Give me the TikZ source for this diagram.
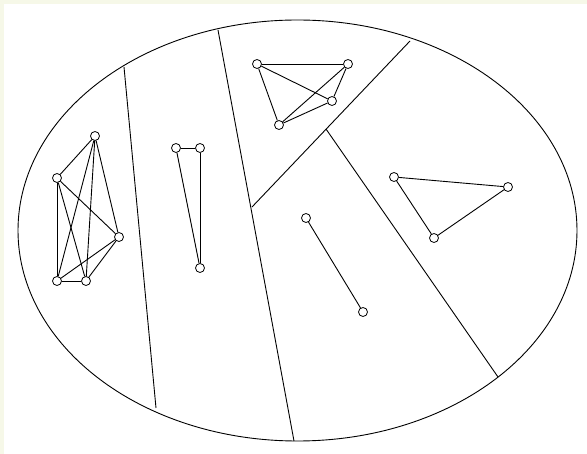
\documentclass[tikz,border=0pt]{standalone}
\definecolor{bgcream}{RGB}{246,248,232}
\begin{document}
\begin{tikzpicture}[x=1pt,y=-1pt,
  vtx/.style={circle,draw=black,fill=white,inner sep=0pt,minimum size=9pt,line width=0.8pt},
  edge/.style={draw=black,line width=0.9pt},
  part/.style={draw=black,line width=0.9pt}]
\fill[bgcream] (0,0) rectangle (587,454);
\fill[white] (4,4) rectangle (587,454);
\useasboundingbox (0,0) rectangle (587,454);
% outer ellipse
\draw[part] (297.5,230.5) ellipse [x radius=279.5, y radius=210.5];
% partition lines
\coordinate (p1a) at (124,67);
\coordinate (p1b) at (156,408);
\coordinate (p2a) at (218,30);
\coordinate (p2b) at (294,441);
\coordinate (p3a) at (410,41);
\coordinate (p3b) at (252,207);
\coordinate (p4a) at (326,129);
\coordinate (p4b) at (498,377);
\draw[part] (p1a) -- (p1b);
\draw[part] (p2a) -- (p2b);
\draw[part] (p3a) -- (p3b);
\draw[part] (p4a) -- (p4b);
% cluster 1 (K5)
\node[vtx] (a) at (95,136) {};
\node[vtx] (b) at (57,178) {};
\node[vtx] (c) at (119,237) {};
\node[vtx] (d) at (57,281) {};
\node[vtx] (e) at (86,281) {};
% cluster 2
\node[vtx] (f) at (176,148) {};
\node[vtx] (g) at (200,148) {};
\node[vtx] (h) at (200,268) {};
% cluster 3 (K4)
\node[vtx] (i) at (257,64) {};
\node[vtx] (j) at (348,64) {};
\node[vtx] (k) at (332,101) {};
\node[vtx] (l) at (279,125) {};
% cluster 4
\node[vtx] (m) at (306,218) {};
\node[vtx] (n) at (363,312) {};
% cluster 5
\node[vtx] (o) at (394,177) {};
\node[vtx] (p) at (508,187) {};
\node[vtx] (q) at (434,238) {};
\begin{scope}[on background layer/.style={}]
\foreach \u/\v in {a/b,a/c,a/d,a/e,b/c,b/d,b/e,c/d,c/e,d/e,f/g,f/h,g/h,i/j,i/k,i/l,j/k,j/l,k/l,m/n,o/p,p/q,o/q}
  \draw[edge] (\u) -- (\v);
\end{scope}
\end{tikzpicture}
\end{document}
